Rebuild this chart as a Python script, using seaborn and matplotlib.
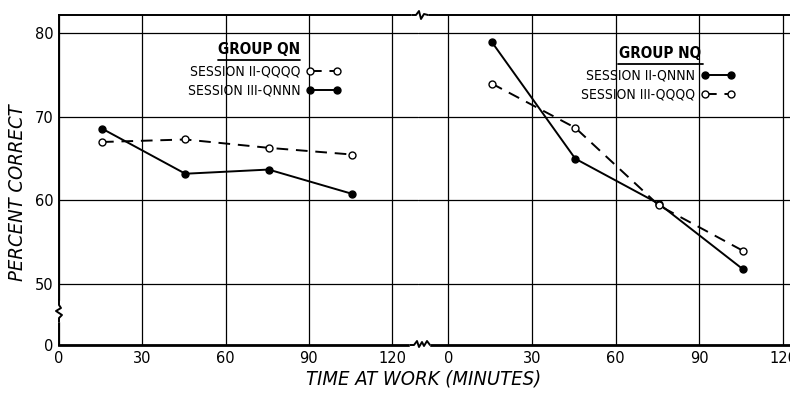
import numpy as np
import pandas as pd
import matplotlib
matplotlib.use("Agg")
import matplotlib.pyplot as plt
from matplotlib.lines import Line2D
from matplotlib.font_manager import FontProperties
import seaborn as sns

# ---- data ----
times = [15.5, 45.5, 75.5, 105.5]
qn_s2_qqqq = [67.0, 67.3, 66.3, 65.5]
qn_s3_qnnn = [68.6, 63.2, 63.7, 60.8]
nq_s2_qnnn = [79.0, 65.0, 59.6, 51.8]
nq_s3_qqqq = [74.0, 68.7, 59.4, 54.0]
x_ticks = [0, 30, 60, 90, 120]
y_ticks = [0, 50, 60, 70, 80]

rows = []
for grp, sess, vals in [("QN", "SESSION II-QQQQ", qn_s2_qqqq),
                        ("QN", "SESSION III-QNNN", qn_s3_qnnn),
                        ("NQ", "SESSION II-QNNN", nq_s2_qnnn),
                        ("NQ", "SESSION III-QQQQ", nq_s3_qqqq)]:
    for t, v in zip(times, vals):
        rows.append({"group": grp, "session": sess, "time": t, "pct": v})
df = pd.DataFrame(rows)

sns.set_style("white")
plt.rcParams["font.family"] = ["DejaVu Sans"]
plt.rcParams["text.color"] = "black"
plt.rcParams["xtick.color"] = "black"
plt.rcParams["ytick.color"] = "black"

def cond(size, **kw):
    return FontProperties(family="DejaVu Sans", stretch="condensed", size=size, **kw)

W, H = 790, 397
fig = plt.figure(figsize=(W / 100, H / 100), dpi=100)

def fx(px):
    return px / W

def fy(py):
    return 1 - py / H

ax_bottom, ax_top = 345, 15
axL = fig.add_axes([fx(59), fy(ax_bottom), fx(418 - 59), (ax_bottom - ax_top) / H])
axR = fig.add_axes([fx(418), fy(ax_bottom), fx(790 - 418), (ax_bottom - ax_top) / H])

# broken y axis: 0 .. 50 compressed
A0 = 42.7
def fwd(v):
    v = np.asarray(v, dtype=float)
    return np.where(v >= 50, v, A0 + v * (50 - A0) / 50)
def inv(u):
    u = np.asarray(u, dtype=float)
    return np.where(u >= 50, u, (u - A0) * 50 / (50 - A0))

styles = {
    "SESSION II-QQQQ": dict(linestyle=(0, (6, 4)), marker="o", markerfacecolor="white"),
    "SESSION III-QQQQ": dict(linestyle=(0, (6, 4)), marker="o", markerfacecolor="white"),
    "SESSION II-QNNN": dict(linestyle="-", marker="o", markerfacecolor="black"),
    "SESSION III-QNNN": dict(linestyle="-", marker="o", markerfacecolor="black"),
}

for ax, grp in [(axL, "QN"), (axR, "NQ")]:
    ax.set_yscale("function", functions=(fwd, inv))
    sub = df[df.group == grp]
    for sess in sub.session.unique():
        st = styles[sess]
        sns.lineplot(data=sub[sub.session == sess], x="time", y="pct", ax=ax,
                     color="black", linewidth=1.4, markersize=5,
                     markeredgecolor="black", markeredgewidth=1.0,
                     label=sess, **st)
    ax.set_ylim(0, 82.2)
    ax.set_yticks(y_ticks)
    ax.grid(True, color="black", linewidth=0.9)
    ax.tick_params(length=0, labelsize=10.5, pad=4, colors="black")
    ax.set_xlabel("")
    ax.set_ylabel("")
    for s in ax.spines.values():
        s.set_color("black")
        s.set_linewidth(1.4)
    ax.spines["bottom"].set_linewidth(2.0)
    ax.spines["right"].set_visible(False)
    ax.set_xticks(x_ticks)
    ax.set_xticklabels([str(t) for t in x_ticks])

axL.set_xlim(0, 129.3)
axR.set_xlim(-10.9, 122.5)
axR.spines["left"].set_visible(False)
axR.set_yticklabels([])
axL.set_yticklabels([str(t) for t in y_ticks])

# legends (titles drawn separately, underlined)
def make_legend(ax, order, anchor):
    h, l = ax.get_legend_handles_labels()
    d = dict(zip(l, h))
    leg = ax.legend([d[k] for k in order], order, loc="upper left",
                    bbox_to_anchor=anchor, bbox_transform=fig.transFigure,
                    frameon=False, markerfirst=False, numpoints=2,
                    handlelength=2.5, handletextpad=0.4, labelspacing=0.35,
                    borderpad=0, prop=cond(10))
    return leg

make_legend(axL, ["SESSION II-QQQQ", "SESSION III-QNNN"], (fx(181), fy(58)))
make_legend(axR, ["SESSION II-QNNN", "SESSION III-QQQQ"], (fx(574), fy(62)))

fig.text(fx(259), fy(50), "GROUP QN", ha="center", va="center",
         fontproperties=cond(11, weight="bold"))
fig.text(fx(660), fy(54), "GROUP NQ", ha="center", va="center",
         fontproperties=cond(11, weight="bold"))
fig.add_artist(Line2D([fx(218), fx(300)], [fy(60), fy(60)], color="black", lw=1.3))
fig.add_artist(Line2D([fx(618), fx(703)], [fy(64), fy(64)], color="black", lw=1.3))

# axis labels
fig.text(fx(18), fy(193), "PERCENT CORRECT", rotation=90, ha="center", va="center",
         fontproperties=cond(14.5, style="italic"))
fig.text(fx(424), fy(379), "TIME AT WORK (MINUTES)", ha="center", va="center",
         fontproperties=cond(14.5, style="italic"))

# break marks
def squiggle(xs, ys, bg=None):
    if bg is not None:
        fig.add_artist(Line2D([fx(p) for p in bg[0]], [fy(p) for p in bg[1]],
                              color="white", lw=4, zorder=10))
    fig.add_artist(Line2D([fx(p) for p in xs], [fy(p) for p in ys],
                          color="black", lw=1.4, zorder=11))

# top x break
squiggle([412, 416, 419, 421, 424, 428], [15, 15, 11, 19, 14, 15],
         bg=([414, 426], [15, 15]))
# bottom x break
squiggle([410, 414, 417, 419, 422, 424, 427, 430], [345, 345, 341, 347, 342, 346, 341, 345],
         bg=([412, 428], [345, 345]))
# y axis break
squiggle([59, 59, 62, 56, 61, 59, 59], [322, 318, 315, 311, 308, 305, 300],
         bg=([59, 59], [320, 303]))

fig.savefig("out.png", dpi=100)
